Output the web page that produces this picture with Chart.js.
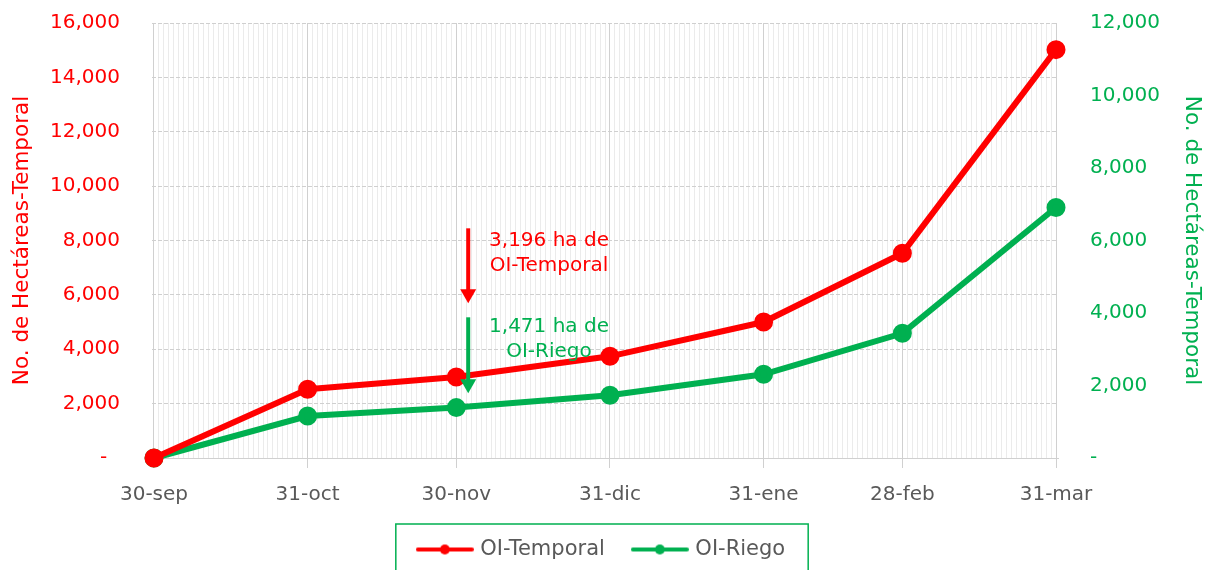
<!DOCTYPE html>
<html>
<head>
<meta charset="utf-8">
<script src="https://cdn.jsdelivr.net/npm/chart.js@4.4.1/dist/chart.umd.min.js"></script>
<style>
  html, body { margin: 0; padding: 0; background: #fff; }
  #wrap { width: 1205px; height: 570px; }
</style>
</head>
<body>
<div id="wrap"><canvas id="chart"></canvas></div>
<script>
// Data
const fechas = ['30-sep', '31-oct', '30-nov', '31-dic', '31-ene', '28-feb', '31-mar'];
const dias = [0, 31, 61, 92, 123, 151, 182]; // days since 30-sep
const temporal = [0, 2527, 2980, 3740, 5001, 7529, 15020];
const riego = [0, 1159, 1390, 1731, 2309, 3440, 6910];
const tituloEje = 'No. de Hectáreas-Temporal';

const ROJO = '#ff0000';
const VERDE = '#00b050';
const GRIS = '#595959';

// notes with arrows (x in days, y on left axis)
const notas = [
  { color: ROJO, lines: ['3,196 ha de', 'OI-Temporal'], tx: 79.7, ty: [8006, 7087], ax: 63.4, y0: 8448, y1: 5690 },
  { color: VERDE, lines: ['1,471 ha de', 'OI-Riego'], tx: 79.7, ty: [4844, 3888], ax: 63.4, y0: 5175, y1: 2380 }
];

Chart.defaults.font.family = 'DejaVu Sans';
Chart.defaults.font.size = 20;

function legendLine(color) {
  const c = document.createElement('canvas');
  c.width = 58; c.height = 14;
  const g = c.getContext('2d');
  g.strokeStyle = color; g.lineWidth = 4; g.lineCap = 'round';
  g.beginPath(); g.moveTo(2, 7); g.lineTo(56, 7); g.stroke();
  g.fillStyle = color;
  g.beginPath(); g.arc(29, 7, 5, 0, Math.PI * 2); g.fill();
  return c;
}
const legendImgs = [legendLine(ROJO), legendLine(VERDE)];

const fmt = v => v === 0 ? '-' : v.toLocaleString('en-US');

const notasPlugin = {
  id: 'notas',
  afterDatasetsDraw(chart) {
    const ctx = chart.ctx, xs = chart.scales.x, ys = chart.scales.y;
    ctx.save();
    notas.forEach(n => {
      const ax = xs.getPixelForValue(n.ax);
      const y0 = ys.getPixelForValue(n.y0), y1 = ys.getPixelForValue(n.y1);
      ctx.strokeStyle = n.color; ctx.fillStyle = n.color; ctx.lineWidth = 4;
      ctx.beginPath(); ctx.moveTo(ax, y0); ctx.lineTo(ax, y1 - 12); ctx.stroke();
      ctx.beginPath(); ctx.moveTo(ax - 8, y1 - 14); ctx.lineTo(ax + 8, y1 - 14); ctx.lineTo(ax, y1); ctx.closePath(); ctx.fill();
      ctx.font = '20px "DejaVu Sans"';
      ctx.textAlign = 'center'; ctx.textBaseline = 'middle';
      n.lines.forEach((t, i) => ctx.fillText(t, xs.getPixelForValue(n.tx), ys.getPixelForValue(n.ty[i])));
    });
    ctx.restore();
  }
};

const legendBox = {
  id: 'legendBox',
  afterDraw(chart) {
    const boxes = chart.legend.legendHitBoxes;
    if (!boxes || !boxes.length) return;
    const first = boxes[0], last = boxes[boxes.length - 1];
    const left = first.left - 24, right = last.left + last.width + 23;
    const ctx = chart.ctx;
    ctx.save();
    ctx.strokeStyle = VERDE; ctx.lineWidth = 1.5;
    ctx.strokeRect(left, chart.legend.top - 5, right - left, 80);
    ctx.restore();
  }
};

new Chart(document.getElementById('chart'), {
  type: 'line',
  data: {
    datasets: [{
      label: 'OI-Temporal',
      data: dias.map((d, i) => ({ x: d, y: temporal[i] })),
      borderColor: ROJO,
      backgroundColor: ROJO,
      borderWidth: 6,
      pointRadius: 6.5,
      pointHoverRadius: 6.5,
      yAxisID: 'y',
      clip: false
    }, {
      label: 'OI-Riego',
      data: dias.map((d, i) => ({ x: d, y: riego[i] })),
      borderColor: VERDE,
      backgroundColor: VERDE,
      borderWidth: 6,
      pointRadius: 6.5,
      pointHoverRadius: 6.5,
      yAxisID: 'y1',
      clip: false
    }]
  },
  options: {
    responsive: true,
    maintainAspectRatio: false,
    animation: false,
    layout: { padding: { top: 23, left: 0, right: 0, bottom: 0 } },
    plugins: {
      tooltip: { enabled: false },
      legend: {
        position: 'bottom',
        labels: {
          color: GRIS,
          padding: 10,
          usePointStyle: true,
          pointStyleWidth: 50,
          font: { size: 21 },
          generateLabels(chart) {
            const items = Chart.defaults.plugins.legend.labels.generateLabels(chart);
            items.forEach((it, i) => {
              it.pointStyle = legendImgs[i];
              if (i === 0) it.text += '   ';
            });
            return items;
          }
        }
      }
    },
    scales: {
      x: {
        type: 'linear',
        min: -0.4,
        max: 182.4,
        afterBuildTicks(scale) {
          const t = [];
          for (let d = 0; d <= 182; d++) t.push({ value: d });
          scale.ticks = t;
        },
        afterFit(scale) { scale.height = 71; },
        ticks: {
          autoSkip: false,
          maxRotation: 0,
          padding: 15,
          color: GRIS,
          callback: v => {
            const i = dias.indexOf(v);
            return i >= 0 ? fechas[i] : '';
          }
        },
        grid: {
          color: c => dias.includes(c.tick && c.tick.value) ? '#d0d0d0' : '#ebebeb',
          tickColor: c => dias.includes(c.tick && c.tick.value) ? '#d0d0d0' : 'rgba(0,0,0,0)',
          tickLength: 10
        },
        border: { display: true, color: '#d0d0d0' }
      },
      y: {
        position: 'left',
        min: 0,
        max: 16000,
        afterFit(scale) { scale.width = 152; scale.paddingTop = 0; scale.paddingBottom = 0; },
        ticks: {
          stepSize: 2000,
          color: ROJO,
          padding: 32,
          callback: v => v === 0 ? '-  ' : fmt(v)
        },
        grid: { color: '#cfcfcf', drawTicks: false },
        border: { display: false, dash: [4, 2] },
        title: {
          display: true,
          text: tituloEje,
          color: ROJO,
          font: { size: 21.5 },
          padding: { top: 10, bottom: 16 }
        }
      },
      y1: {
        position: 'right',
        min: 0,
        max: 12000,
        afterFit(scale) { scale.width = 147; scale.paddingTop = 0; scale.paddingBottom = 0; },
        ticks: {
          stepSize: 2000,
          color: VERDE,
          padding: 32,
          callback: fmt
        },
        grid: { drawOnChartArea: false, drawTicks: false },
        border: { display: false },
        title: {
          display: true,
          text: tituloEje,
          color: VERDE,
          font: { size: 21.5 },
          padding: { top: 1, bottom: 20 }
        }
      }
    }
  },
  plugins: [notasPlugin, legendBox]
});
</script>
</body>
</html>
